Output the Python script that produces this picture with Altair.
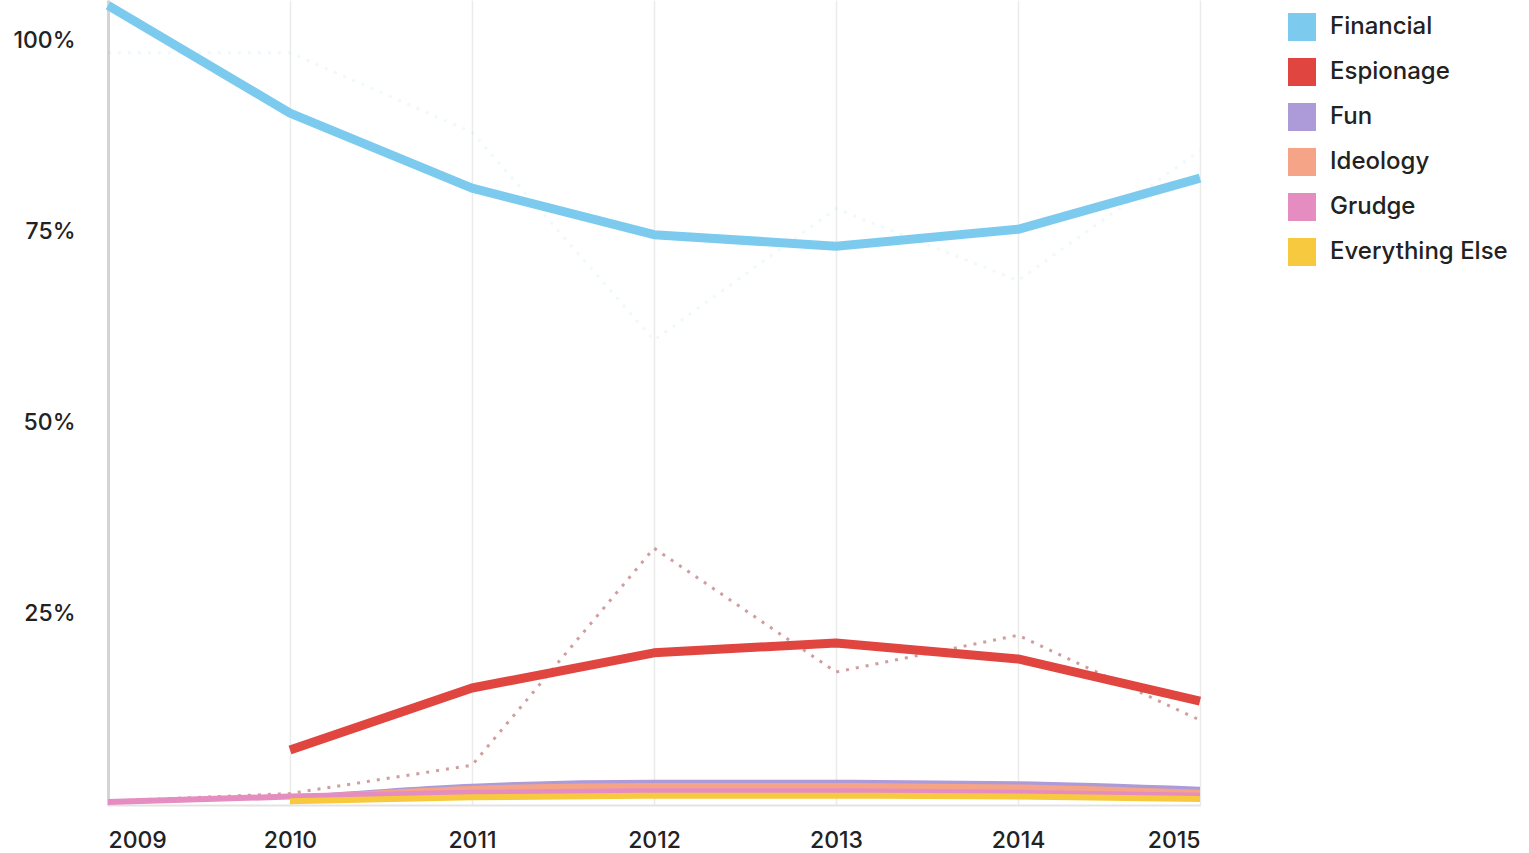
import altair as alt
import pandas as pd

# Motive shares by year (percent)
years = [2009, 2010, 2011, 2012, 2013, 2014, 2015]
categories = ["Financial", "Espionage", "Fun", "Ideology", "Grudge", "Everything Else"]
colors = ["#7ccbef", "#e0463f", "#ad9ad8", "#f6a488", "#e58cc0", "#f6c93e"]

financial = [104.6, 90.5, 80.7, 74.6, 73.1, 75.3, 82.0]
espionage = [None, 7.2, 15.3, 19.9, 21.2, 19.1, 13.6]
fun = [None, 0.8, 2.4, 2.9, 2.9, 2.7, 2.0]
ideology = [None, 0.8, 2.1, 2.5, 2.5, 2.3, 1.6]
grudge = [0.4, 1.1, 1.6, 1.8, 1.8, 1.6, 1.2]
everything_else = [None, 0.5, 1.0, 1.2, 1.2, 1.1, 0.8]

# Unsmoothed yearly readings drawn as dotted traces
financial_raw = [98.4, 98.4, 88.0, 60.8, 78.0, 68.6, 85.6]
espionage_raw = [0.5, 1.5, 5.2, 33.6, 17.4, 22.2, 11.1]

series = {
    "Financial": financial,
    "Espionage": espionage,
    "Fun": fun,
    "Ideology": ideology,
    "Grudge": grudge,
    "Everything Else": everything_else,
}

rows = []
for name, vals in series.items():
    for y, v in zip(years, vals):
        if v is not None:
            rows.append({"year": y, "share": v, "motive": name})
main = pd.DataFrame(rows)

raw = pd.DataFrame({"year": years, "fin": financial_raw, "esp": espionage_raw})

x_enc = alt.X(
    "year:Q",
    scale=alt.Scale(domain=[2009, 2015], nice=False, zero=False),
    axis=alt.Axis(
        values=years, format="d", title=None, labelFlush=True, ticks=False,
        labelPadding=24, grid=True, gridColor="#ebebeb", gridWidth=1.5,
        domainColor="#e3e3e3", domainWidth=2,
    ),
)
y_scale = alt.Scale(domain=[0, 105.3], nice=False)
y_axis = alt.Axis(
    values=[25, 50, 75, 100], labelExpr="datum.value + '%'", title=None,
    ticks=False, grid=False, labelPadding=33, domainColor="#d4d4d4", domainWidth=3,
)
color_scale = alt.Scale(domain=categories, range=colors)
key_legend = alt.Legend(
    title=None, orient="none", legendX=1180, legendY=13,
    symbolType="square", symbolSize=784, symbolStrokeWidth=0,
    symbolOpacity=1,
    labelFontSize=24, labelFont="Inter", labelFontWeight=500, labelColor="#222222",
    labelOffset=14, rowPadding=17, padding=0, labelLimit=400,
)

fin_dotted = alt.Chart(raw).mark_line(
    color="#7ccbef", strokeDash=[3, 7], strokeWidth=3, opacity=0.12, clip=False
).encode(x=x_enc, y=alt.Y("fin:Q", scale=y_scale, axis=y_axis))

esp_dotted = alt.Chart(raw).mark_line(
    color="#c48686", strokeDash=[3, 7], strokeWidth=3, opacity=0.8, clip=False
).encode(x=x_enc, y=alt.Y("esp:Q", scale=y_scale, axis=y_axis))

small = main[main["motive"].isin(["Fun", "Ideology", "Grudge", "Everything Else"])]
big = main[main["motive"].isin(["Financial", "Espionage"])]

# Filled square swatches for the key (the points themselves have zero size)
key = alt.Chart(main).mark_square(size=0, filled=True, opacity=1).encode(
    x=x_enc, y=alt.Y("share:Q", scale=y_scale, axis=y_axis),
    color=alt.Color("motive:N", scale=color_scale, sort=categories, legend=key_legend),
)

small_lines = alt.Chart(small).mark_line(
    strokeWidth=6, interpolate="monotone", clip=False
).encode(
    x=x_enc, y=alt.Y("share:Q", scale=y_scale, axis=y_axis),
    color=alt.Color("motive:N", scale=color_scale, sort=categories, legend=key_legend),
)

big_lines = alt.Chart(big).mark_line(
    strokeWidth=9, interpolate="linear", strokeJoin="round", clip=False
).encode(
    x=x_enc, y=alt.Y("share:Q", scale=y_scale, axis=y_axis),
    color=alt.Color("motive:N", scale=color_scale, sort=categories, legend=key_legend),
)

chart = alt.layer(key, fin_dotted, esp_dotted, small_lines, big_lines).properties(
    width=1092, height=805,
    autosize=alt.AutoSizeParams(type="none"),
    padding={"left": 108, "top": 0, "right": 329, "bottom": 48},
).configure_axis(
    labelFont="Inter", labelFontSize=23, labelFontWeight=500, labelColor="#222222",
).configure_view(stroke=None)

chart.save("out.html", embed_options={"renderer": "svg", "actions": False})
